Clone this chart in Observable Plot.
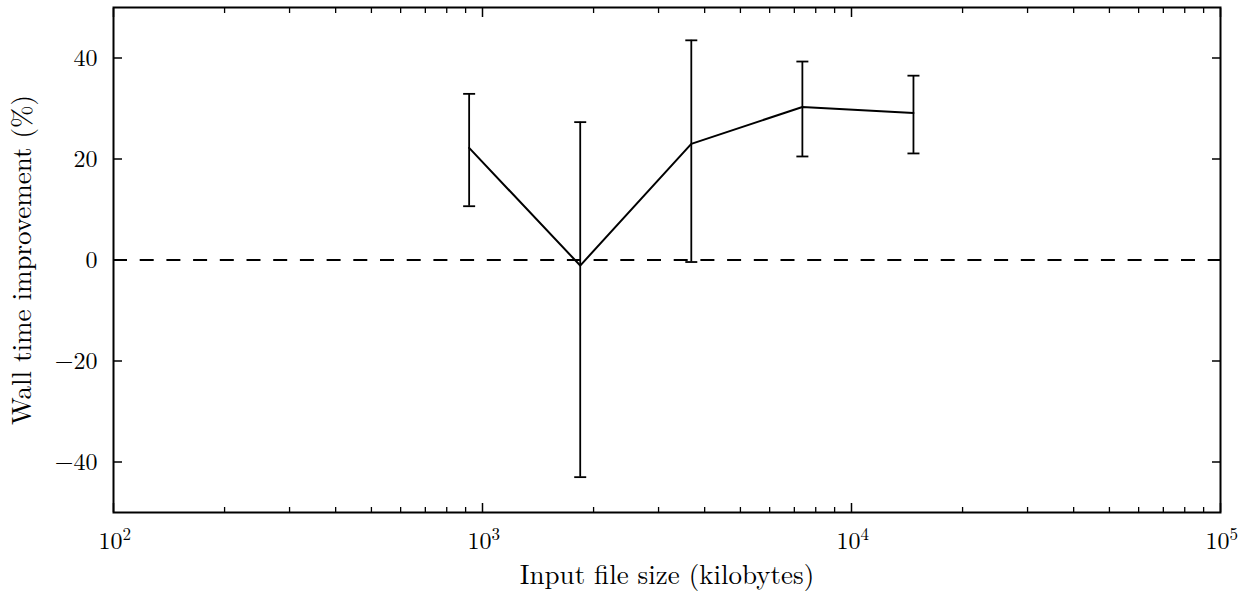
<!DOCTYPE html>
<html>
<head>
<meta charset="utf-8">
<script src="https://cdn.jsdelivr.net/npm/d3@7"></script>
<script src="https://cdn.jsdelivr.net/npm/@observablehq/plot@0.6"></script>
<style>
  html, body { margin: 0; padding: 0; background: #fff; }
  svg text { font-family: 'Latin Modern Roman', 'Liberation Serif', serif !important; }
</style>
</head>
<body>
<div id="chart"></div>
<script>
// Data
const fileSizeKB = [920, 1840, 3680, 7360, 14720];
const improvement = [22.2, -1.1, 23.0, 30.3, 29.1];
const errHigh = [32.9, 27.3, 43.5, 39.3, 36.5];
const errLow = [10.65, -43.0, -0.4, 20.5, 21.1];

const xMajorTicks = [1e2, 1e3, 1e4, 1e5];
const xTickBase = ["10", "10", "10", "10"];
const xTickExponents = ["2", "3", "4", "5"];
const xMinorTicks = [2,3,4,5,6,7,8,9].flatMap(m => [1e2, 1e3, 1e4].map(d => m * d));
const yTicks = [-40, -20, 0, 20, 40];
const yTickLabels = ["−40", "−20", "0", "20", "40"];
const xLabel = "Input file size (kilobytes)";
const yLabel = "Wall time improvement (%)";

const data = fileSizeKB.map((x, i) => ({x, y: improvement[i], hi: errHigh[i], lo: errLow[i]}));
const xTickData = xMajorTicks.map((x, i) => ({x, base: xTickBase[i], exp: xTickExponents[i]}));

const capSymbol = {
  draw(context, size) {
    context.moveTo(-6, 0);
    context.lineTo(6, 0);
  }
};

const font = "Latin Modern Roman";
const ink = "#000";
const tickFont = 24;
const expFont = 17;
const titleFont = 27;

const chart = Plot.plot({
  width: 1249,
  height: 595,
  marginLeft: 113,
  marginRight: 29,
  marginTop: 7,
  marginBottom: 83,
  style: {color: ink, background: "#fff"},
  x: {type: "log", domain: [1e2, 1e5]},
  y: {domain: [-50, 50]},
  marks: [
    // zero reference line
    Plot.ruleY([0], {stroke: ink, strokeWidth: 1.8, strokeDasharray: "14,12.7"}),
    // inward major and minor ticks on all four sides
    Plot.axisY(yTicks, {anchor: "left", tickSize: -9, tickFormat: () => "", label: null, strokeWidth: 1.5}),
    Plot.axisY(yTicks, {anchor: "right", tickSize: -9, tickFormat: () => "", label: null, strokeWidth: 1.5}),
    Plot.axisX(xMajorTicks, {anchor: "bottom", tickSize: -9, tickFormat: () => "", label: null, strokeWidth: 1.5}),
    Plot.axisX(xMajorTicks, {anchor: "top", tickSize: -9, tickFormat: () => "", label: null, strokeWidth: 1.5}),
    Plot.axisX(xMinorTicks, {anchor: "bottom", tickSize: -5, tickFormat: () => "", label: null, strokeWidth: 1.3}),
    Plot.axisX(xMinorTicks, {anchor: "top", tickSize: -5, tickFormat: () => "", label: null, strokeWidth: 1.3}),
    // y tick labels
    Plot.axisY(yTicks, {anchor: "left", tickSize: 0, tickPadding: 16, label: null,
      tickFormat: d => yTickLabels[yTicks.indexOf(d)], fontSize: tickFont, fontFamily: font, fill: ink}),
    // x tick labels: base and superscript exponent
    Plot.text(xTickData, {x: "x", text: "base", frameAnchor: "bottom", dy: 29, dx: 9,
      textAnchor: "end", lineAnchor: "middle", fontSize: tickFont, fontFamily: font, fill: ink}),
    Plot.text(xTickData, {x: "x", text: "exp", frameAnchor: "bottom", dy: 22, dx: 9,
      textAnchor: "start", lineAnchor: "middle", fontSize: expFont, fontFamily: font, fill: ink}),
    // axis titles
    Plot.text([yLabel], {frameAnchor: "left", dx: -91, rotate: -90, textAnchor: "middle", lineAnchor: "middle",
      fontSize: titleFont, fontFamily: font, fill: ink}),
    Plot.text([xLabel], {frameAnchor: "bottom", dy: 63, textAnchor: "middle", lineAnchor: "middle",
      fontSize: titleFont, fontFamily: font, fill: ink}),
    // error bars
    Plot.ruleX(data, {x: "x", y1: "lo", y2: "hi", stroke: ink, strokeWidth: 1.8}),
    Plot.dot(data, {x: "x", y: "hi", symbol: capSymbol, stroke: ink, strokeWidth: 1.8, fill: "none", r: 6}),
    Plot.dot(data, {x: "x", y: "lo", symbol: capSymbol, stroke: ink, strokeWidth: 1.8, fill: "none", r: 6}),
    // series line
    Plot.line(data, {x: "x", y: "y", stroke: ink, strokeWidth: 2}),
    Plot.frame({stroke: ink, strokeWidth: 2})
  ]
});

document.getElementById("chart").appendChild(chart);
</script>
</body>
</html>
